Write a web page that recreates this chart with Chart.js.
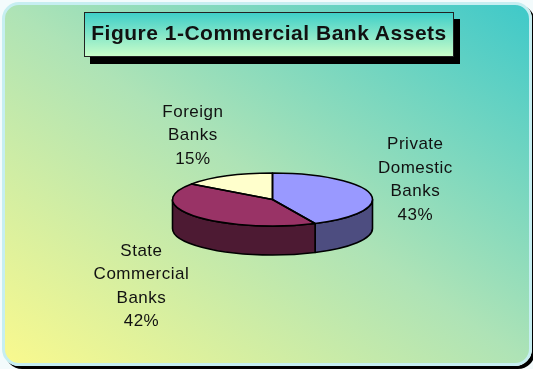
<!DOCTYPE html>
<html>
<head>
<meta charset="utf-8">
<title>Commercial Bank Assets</title>
<script src="https://cdn.jsdelivr.net/npm/chart.js@4"></script>
<style>
  html, body { margin: 0; padding: 0; }
  body {
    width: 533px; height: 369px; overflow: hidden; position: relative;
    background: #f3fbfc;
    font-family: "Liberation Sans", Arial, sans-serif;
  }
  .panel {
    position: absolute; left: 2px; top: 2px; width: 530px; height: 364px;
    box-sizing: border-box;
    border: 3px solid #c6eef1;
    border-radius: 17px;
    background: linear-gradient(to top right, #f9f98e 0%, #aee3b6 50%, #3fc9c9 100%);
    box-shadow: 3px 3px 0 #000;
  }
  #chart { position: absolute; left: 0; top: 0; }
  .title {
    position: absolute; left: 84px; top: 12px; width: 370px; height: 45px;
    box-sizing: border-box;
    border: 1px solid #222;
    background: linear-gradient(to bottom, #3fcfc8 0%, #c9fdc9 100%);
    box-shadow: 6px 7px 0 #000;
    font-weight: bold; font-size: 21px; letter-spacing: 0.5px; color: #111;
    text-align: center; line-height: 40px;
  }
</style>
</head>
<body>
<div class="panel"></div>
<canvas id="chart" width="533" height="369"></canvas>
<div class="title">Figure 1-Commercial Bank Assets</div>
<script>
// Share of commercial bank assets by bank type
const categories = ['Private Domestic Banks', 'State Commercial Banks', 'Foreign Banks'];
const labelLines = [['Private', 'Domestic', 'Banks'], ['State', 'Commercial', 'Banks'], ['Foreign', 'Banks']];
const shares = [43, 42, 15];

const topColors = ['#9999ff', '#993366', '#ffffcc'];
const sideColors = ['#4d4d80', '#4d1a33', '#80806a'];

// 3D look: squash factor for the top face and height of the rim
const TILT = 0.265;
const DEPTH = 29;

const pie3d = {
    id: 'pie3d',
    beforeDatasetsDraw(chart) {
        const ctx = chart.ctx;
        const arcs = chart.getDatasetMeta(0).data;
        const { x: cx, y: cy, outerRadius: r } = arcs[0];
        const ry = r * TILT;

        // rim walls, only the front half shows
        ctx.save();
        ctx.lineWidth = 1.6;
        ctx.strokeStyle = '#000';
        ctx.lineJoin = 'round';
        arcs.forEach((arc, i) => {
            const a1 = Math.max(arc.startAngle, 0);
            const a2 = Math.min(arc.endAngle, Math.PI);
            if (a2 <= a1) return;
            ctx.beginPath();
            ctx.ellipse(cx, cy, r, ry, 0, a1, a2);
            ctx.ellipse(cx, cy + DEPTH, r, ry, 0, a2, a1, true);
            ctx.closePath();
            ctx.fillStyle = sideColors[i];
            ctx.fill();
            ctx.stroke();
        });
        ctx.restore();

        // squash the library's round pie into the tilted top face
        ctx.save();
        ctx.translate(cx, cy);
        ctx.scale(1, TILT);
        ctx.translate(-cx, -cy);
    },
    afterDatasetsDraw(chart) {
        const ctx = chart.ctx;
        ctx.restore();

        const arcs = chart.getDatasetMeta(0).data;
        const { x: cx, y: cy, outerRadius: r } = arcs[0];
        const ry = r * TILT;

        // slice outlines on the top face
        ctx.save();
        ctx.lineWidth = 1.6;
        ctx.strokeStyle = '#000';
        ctx.lineJoin = 'round';
        arcs.forEach(arc => {
            ctx.beginPath();
            ctx.moveTo(cx, cy);
            ctx.ellipse(cx, cy, r, ry, 0, arc.startAngle, arc.endAngle);
            ctx.closePath();
            ctx.stroke();
        });
        ctx.restore();

        // category labels outside the pie
        ctx.save();
        ctx.font = '17px "Liberation Sans", Arial, sans-serif';
        ctx.letterSpacing = '0.5px';
        ctx.fillStyle = '#111';
        ctx.textAlign = 'center';
        ctx.textBaseline = 'middle';
        const lineH = 23.5;
        arcs.forEach((arc, i) => {
            const mid = (arc.startAngle + arc.endAngle) / 2;
            const c = Math.cos(mid);
            const s = Math.sin(mid);
            const ax = cx + (r + 8) * c;
            const ay = cy + (ry + 8) * s + (s > 0 ? DEPTH + 6 : -2);
            const lines = [...labelLines[i], shares[i] + '%'];
            const w = Math.max(...lines.map(t => ctx.measureText(t).width));
            const h = lines.length * lineH;
            const left = c >= 0 ? ax : ax - w;
            const top = ay + s * h / 2 - h / 2;
            lines.forEach((t, k) => {
                ctx.fillText(t, left + w / 2, top + lineH * (k + 0.5));
            });
        });
        ctx.restore();
    }
};

new Chart(document.getElementById('chart'), {
    type: 'pie',
    data: {
        labels: categories,
        datasets: [{
            data: shares,
            backgroundColor: topColors,
            borderWidth: 0,
            clip: false
        }]
    },
    options: {
        responsive: false,
        animation: false,
        radius: 100,
        layout: {
            padding: { left: 12, top: 30, right: 0, bottom: 0 }
        },
        plugins: {
            legend: { display: false },
            tooltip: { enabled: false }
        },
        events: []
    },
    plugins: [pie3d]
});
</script>
</body>
</html>
